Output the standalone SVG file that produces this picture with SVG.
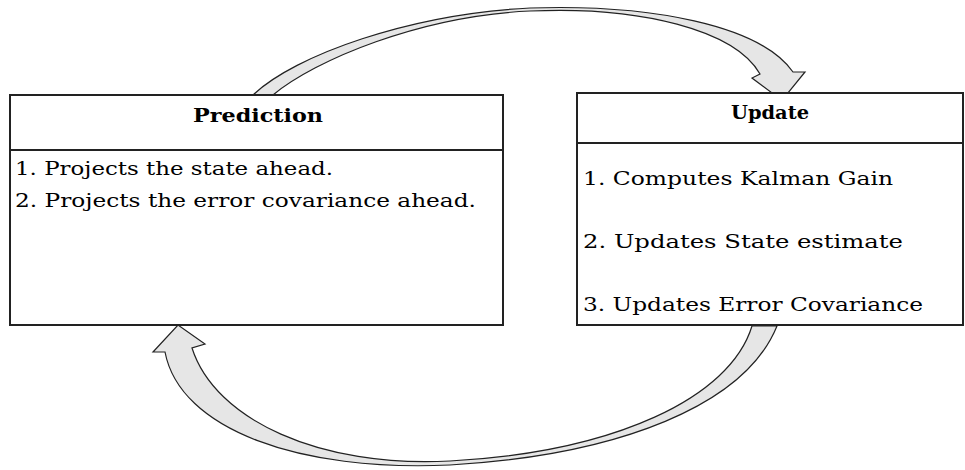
<svg xmlns="http://www.w3.org/2000/svg" width="965" height="470" viewBox="0 0 965 470">
<style>
.box{fill:#fff;stroke:#222;stroke-width:2}
.div{stroke:#222;stroke-width:2}
.title{font-family:"DejaVu Serif","Liberation Serif",serif;font-weight:bold;font-size:19px;fill:#000;text-anchor:middle}
.body{font-family:"DejaVu Serif","Liberation Serif",serif;font-size:19px;fill:#000}
.arrow{fill:#e6e6e6;stroke:#222;stroke-width:1.2;stroke-linejoin:miter}
</style>
<rect width="965" height="470" fill="#fff"/>
<g id="connectors">
<path class="arrow" d="M253,95 C295,55 410,14 530,8 C650,4 760,25 793,72 L805,72 L788,93 L772,93 L752,78 L760,74 C735,30 640,6 530,11 C420,16 315,60 273,95 Z"/>
<path class="arrow" d="M777,326 C745,405 620,455 450,465 C300,472 180,430 165,352 L153,352 L178,325 L205,344 L192,348 C215,420 320,468 450,461 C615,452 730,398 752,326 Z"/>
</g>
<g id="prediction">
<rect class="box" x="10" y="95" width="493" height="230"/>
<line class="div" x1="10" y1="150" x2="503" y2="150"/>
<text class="title" x="258" y="122" textLength="130" lengthAdjust="spacingAndGlyphs">Prediction</text>
<text class="body" x="15" y="175" textLength="318" lengthAdjust="spacingAndGlyphs">1. Projects the state ahead.</text>
<text class="body" x="15" y="207" textLength="461" lengthAdjust="spacingAndGlyphs">2. Projects the error covariance ahead.</text>
</g>
<g id="update">
<rect class="box" x="577" y="93" width="386" height="232"/>
<line class="div" x1="577" y1="143" x2="963" y2="143"/>
<text class="title" x="770" y="119" textLength="78" lengthAdjust="spacingAndGlyphs">Update</text>
<text class="body" x="583" y="185" textLength="310" lengthAdjust="spacingAndGlyphs">1. Computes Kalman Gain</text>
<text class="body" x="583" y="248" textLength="320" lengthAdjust="spacingAndGlyphs">2. Updates State estimate</text>
<text class="body" x="583" y="311" textLength="340" lengthAdjust="spacingAndGlyphs">3. Updates Error Covariance</text>
</g>
</svg>
